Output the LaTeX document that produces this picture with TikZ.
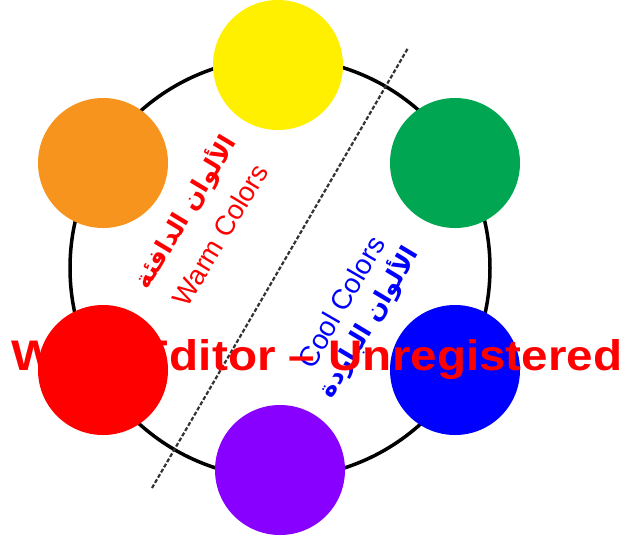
\documentclass[tikz,border=0pt]{standalone}
\usepackage{fontspec}
\usepackage{graphicx}
\setmainfont{Liberation Sans}
\newfontfamily\arabicfont[Script=Arabic]{DejaVu Sans}
\TeXXeTstate=1
\definecolor{cyellow}{HTML}{FFF000}
\definecolor{cgreen}{HTML}{00A651}
\definecolor{cblue}{HTML}{0000FF}
\definecolor{cpurple}{HTML}{8800FF}
\definecolor{cred}{HTML}{FF0000}
\definecolor{corange}{HTML}{F7941D}
\tikzset{
  dot/.style={circle, inner sep=0pt, minimum size=130pt, draw=none},
  warmlbl/.style={text=red, rotate=59, inner sep=0pt, font=\fontsize{27.5}{30}\selectfont},
  coollbl/.style={text=blue, rotate=60, inner sep=0pt, font=\fontsize{28}{30}\selectfont},
  arlbl/.style={rotate=59, inner sep=0pt, font=\arabicfont\bfseries\fontsize{25}{30}\selectfont},
}
\begin{document}
\begin{tikzpicture}[x=1pt,y=-1pt]
\useasboundingbox (0,0) rectangle (624,542);
\fill[white] (0,0) rectangle (624,542);
% big ring
\node[circle, draw=black, line width=3.5pt, minimum size=420pt, inner sep=0pt] (ring) at (280,268) {};
% dashed divider
\coordinate (d1) at (152,488);
\coordinate (d2) at (408,48);
\draw[black!80, line width=2.2pt, dash pattern=on 4pt off 2pt] (d1) -- (d2);
% colour dots
\node[dot, fill=cyellow] (yellow) at (278,65) {};
\node[dot, fill=cgreen] (green) at (455,163) {};
\node[dot, fill=cblue] (blue) at (455,370) {};
\node[dot, fill=cpurple] (purple) at (280,470) {};
\node[dot, fill=cred] (red) at (103,370) {};
\node[dot, fill=corange] (orange) at (103,163) {};
% labels
\node[warmlbl] (warm) at (220,235) {Warm Colors};
\node[arlbl, text=red] (warmar) at (185,212) {\beginR الألوان الدافئة\endR};
\node[coollbl] (cool) at (341,302) {Cool Colors};
\node[arlbl, text=blue] (coolar) at (368,322) {\beginR الألوان الباردة\endR};
% watermark
\node[anchor=base west, inner sep=0pt, text=red] (wm) at (11,370) {\resizebox{611pt}{31pt}{\bfseries WMF Editor – Unregistered}};
\end{tikzpicture}
\end{document}
